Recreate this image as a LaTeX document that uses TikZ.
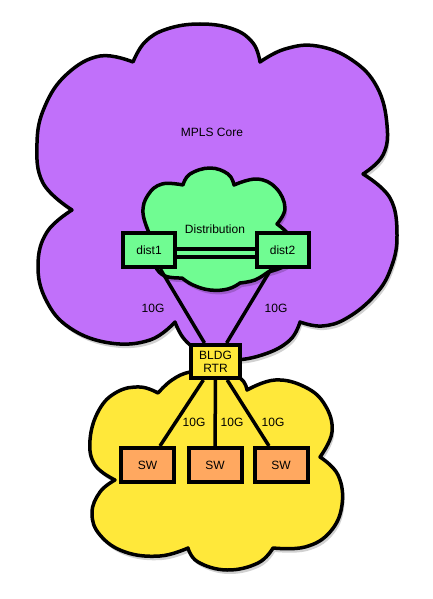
\documentclass[tikz,border=0pt]{standalone}
\usepackage{fontspec}
\setmainfont{Liberation Sans}
\usetikzlibrary{calc}
\pgfdeclarelayer{bg}
\pgfsetlayers{bg,main}
\definecolor{mplspurple}{RGB}{193,112,250}
\definecolor{distgreen}{RGB}{112,252,146}
\definecolor{bldgyellow}{RGB}{255,232,58}
\definecolor{sworange}{RGB}{255,168,96}
\newcommand\mplscloudpath{(260,62) -- plot[smooth,tension=0.7] coordinates {(260,62) (253,43) (233,29) (200,24) (167,29) (145,42) (133,62)}
 -- plot[smooth,tension=0.7] coordinates {(133,62) (100,56) (67,74) (45,106) (37,143) (43,183) (72,210)}
 -- plot[smooth,tension=0.7] coordinates {(72,210) (47,232) (38,265) (46,300) (70,328) (110,343) (150,340) (175,322)}
 -- plot[smooth,tension=0.7] coordinates {(175,322) (185,340) (205,354) (232,360) (265,354) (290,340) (300,322)}
 -- plot[smooth,tension=0.7] coordinates {(300,322) (322,326) (347,318) (375,295) (391,268) (397,235) (390,198) (363,174)}
 -- plot[smooth,tension=0.7] coordinates {(363,174) (383,155) (387,125) (377,87) (352,60) (317,46) (285,49) (260,62)}
 -- cycle}
\newcommand\distcloudpath{(150,235) -- plot[smooth,tension=0.7] coordinates {(150,235) (143,213) (148,195) (162,184) (183,185)}
 -- plot[smooth,tension=0.7] coordinates {(183,185) (190,174) (210,168) (228,174) (234,185)}
 -- plot[smooth,tension=0.7] coordinates {(234,185) (257,179) (276,188) (285,208) (277,224)}
 -- plot[smooth,tension=0.7] coordinates {(277,224) (292,240) (290,262) (268,272)}
 -- plot[smooth,tension=0.7] coordinates {(268,272) (255,280) (240,283)}
 -- plot[smooth,tension=0.7] coordinates {(240,283) (228,289) (210,290) (193,285) (182,278)}
 -- plot[smooth,tension=0.7] coordinates {(182,278) (165,276) (155,266) (150,250) (150,235)}
 -- cycle}
\newcommand\bldgcloudpath{(247,390) -- plot[smooth,tension=0.7] coordinates {(247,390) (240,378) (216,370) (190,372) (172,380) (158,393)}
 -- plot[smooth,tension=0.7] coordinates {(158,393) (140,387) (117,392) (99,410) (90,440) (95,465) (115,480)}
 -- plot[smooth,tension=0.7] coordinates {(115,480) (100,492) (92,513) (100,535) (125,552) (160,556) (188,548)}
 -- plot[smooth,tension=0.7] coordinates {(188,548) (198,562) (227,570) (258,563) (273,548)}
 -- plot[smooth,tension=0.7] coordinates {(273,548) (305,547) (330,532) (342,505) (338,475) (320,457)}
 -- plot[smooth,tension=0.7] coordinates {(320,457) (332,432) (325,405) (305,387) (275,380) (247,390)}
 -- cycle}
\begin{document}
\begin{tikzpicture}[x=1pt,y=-1pt,
  cloudline/.style={draw=black,line width=3.5pt,line join=round},
  cloudshadow/.style={fill=black,opacity=0.18,shift={(2,4)}},
  boxnode/.style={draw=black,line width=4pt,inner sep=0pt,align=center,font=\fontsize{12}{13}\selectfont},
  distbox/.style={boxnode,fill=distgreen,minimum width=52pt,minimum height=34pt},
  rtrbox/.style={boxnode,fill=bldgyellow,minimum width=49pt,minimum height=33pt},
  swbox/.style={boxnode,fill=sworange,minimum width=53pt,minimum height=34pt},
  link/.style={draw=black,line width=3.5pt},
  lbl/.style={inner sep=0pt,font=\fontsize{12}{13}\selectfont}]
\useasboundingbox (0,0) rectangle (432,599);
% nodes
\node[distbox] (dist1) at (149,250) {dist1};
\node[distbox] (dist2) at (282.5,250) {dist2};
\node[rtrbox] (bldg) at (215.5,361.5) {BLDG\\RTR};
\node[swbox] (sw1) at (147.5,465) {SW};
\node[swbox] (sw2) at (215,465) {SW};
\node[swbox] (sw3) at (281,465) {SW};
\node[lbl] (core) at (212,132) {MPLS Core};
\node[lbl] (distlbl) at (215,229) {Distribution};
\node[lbl] (g1) at (153,308) {10G};
\node[lbl] (g2) at (276,308) {10G};
\node[lbl] (g3) at (194,422) {10G};
\node[lbl] (g4) at (232,422) {10G};
\node[lbl] (g5) at (273,422) {10G};
\begin{pgfonlayer}{bg}
\fill[white] (0,0) rectangle (432,599);
\fill[cloudshadow] \mplscloudpath;
\fill[mplspurple,cloudline] \mplscloudpath;
\fill[cloudshadow] \bldgcloudpath;
\fill[bldgyellow,cloudline] \bldgcloudpath;
\fill[cloudshadow] \distcloudpath;
\fill[distgreen,cloudline] \distcloudpath;
\draw[link] (dist1) -- (bldg);
\draw[link] (dist2) -- (bldg);
\draw[link] ([yshift=1pt]dist1.east) -- ([yshift=1pt]dist2.west);
\draw[link] ([yshift=-7pt]dist1.east) -- ([yshift=-7pt]dist2.west);
\draw[link] (bldg) -- (sw1);
\draw[link] (bldg) -- (sw2);
\draw[link] (bldg) -- (sw3);
\end{pgfonlayer}
\end{tikzpicture}
\end{document}
